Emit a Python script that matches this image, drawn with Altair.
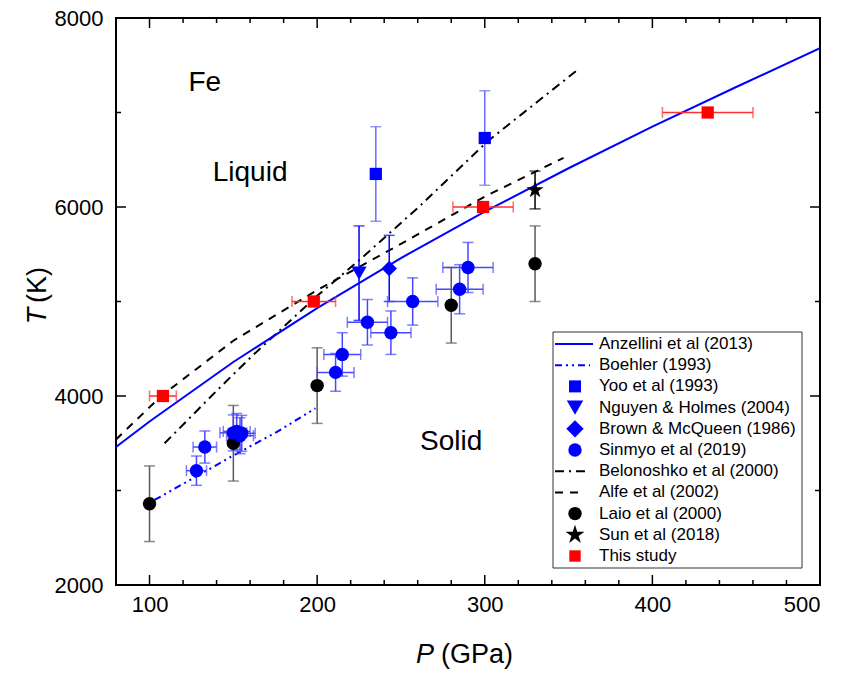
import altair as alt
import pandas as pd

# ---------------- data ----------------
# Anzellini et al (2013) melting curve
anz_P = [80, 100, 150, 200, 250, 300, 350, 400, 450, 500]
anz_T = [3460, 3730, 4360, 4930, 5460, 5950, 6410, 6850, 7270, 7680]
# Boehler (1993)
boe_P = [103, 150, 176, 199]
boe_T = [2900, 3370, 3620, 3870]
# Belonoshko et al (2000)
bel_P = [109, 142, 161, 200, 224, 260, 302, 356]
bel_T = [3500, 4090, 4420, 5060, 5420, 5990, 6700, 7460]
# Alfe et al (2002)
alf_P = [80, 107, 150, 200, 250, 300, 347]
alf_T = [3540, 4000, 4585, 5120, 5610, 6110, 6520]
# Yoo et al (1993)
yoo_P = [235, 300]
yoo_T = [6350, 6730]
yoo_dT = [500, 500]
# Nguyen & Holmes (2004)
ngu_P = [225]
ngu_T = [5300]
ngu_dT = [500]
# Brown & McQueen (1986)
bro_P = [243]
bro_T = [5350]
bro_dT = [350]
# Sinmyo et al (2019)
sin_P = [128, 133, 150, 152, 154, 155, 211, 215, 230, 244, 257, 285, 290]
sin_T = [3210, 3460, 3610, 3625, 3580, 3605, 4250, 4440, 4780, 4670, 5000, 5130, 5360]
sin_dP = [6, 7, 8, 8, 8, 8, 11, 11, 12, 12, 15, 14, 15]
sin_dT = [155, 170, 190, 190, 190, 190, 200, 230, 240, 230, 250, 260, 265]
# Laio et al (2000)
lai_P = [100, 150, 200, 280, 330]
lai_T = [2860, 3500, 4110, 4960, 5400]
lai_dT = [400, 400, 400, 400, 400]
# Sun et al (2018)
sun_P = [330]
sun_T = [6180]
sun_dT = [200]
# This study
ths_P = [108, 198, 299, 433]
ths_T = [4000, 5000, 6000, 7000]
ths_dP = [8, 13, 18, 27]

legend_labels = ["Anzellini et al (2013)", "Boehler (1993)", "Yoo et al (1993)",
                 "Nguyen & Holmes (2004)", "Brown & McQueen (1986)", "Sinmyo et al (2019)",
                 "Belonoshko et al (2000)", "Alfe et al (2002)", "Laio et al (2000)",
                 "Sun et al (2018)", "This study"]

x_major = [100, 200, 300, 400]
x_minor = [120, 140, 160, 180, 220, 240, 260, 280, 320, 340, 360, 380, 420, 440, 460, 480]
y_major = [4000, 6000]
y_minor = [3000, 5000, 7000]

# ---------------- layout ----------------
W, H = 704, 567
FONT = "Liberation Sans"
BLUE = "#0000ff"
STAR = "M0,-1L0.2245,-0.309L0.951,-0.309L0.363,0.118L0.588,0.809L0,0.382L-0.588,0.809L-0.363,0.118L-0.951,-0.309L-0.2245,-0.309Z"

xs = alt.Scale(domain=[80, 500], nice=False, zero=False)
ys = alt.Scale(domain=[2000, 8000], nice=False, zero=False)
x_axis = alt.Axis(values=[100, 200, 300, 400, 500], title=None, format="d")
y_axis = alt.Axis(values=[2000, 4000, 6000, 8000], title=None, format="d")


def X(f):
    return alt.X(f"{f}:Q", scale=xs, axis=x_axis)


def Y(f):
    return alt.Y(f"{f}:Q", scale=ys, axis=y_axis)


def line(P, T, color, dash=None):
    df = pd.DataFrame({"P": P, "T": T})
    kw = dict(color=color, strokeWidth=2, clip=True)
    if dash:
        kw["strokeDash"] = dash
    return alt.Chart(df).mark_line(**kw).encode(x=X("P"), y=Y("T"), order="P:Q")


def yerr(P, T, dT, color, cap=11):
    df = pd.DataFrame({"P": P, "T": T, "dT": dT})
    b = alt.Chart(df).transform_calculate(lo="datum.T - datum.dT", hi="datum.T + datum.dT")
    bar = b.mark_rule(color=color, strokeWidth=1.5).encode(x=X("P"), y=Y("lo"), y2="hi:Q")
    c1 = b.mark_tick(orient="horizontal", color=color, size=cap, thickness=1.5).encode(x=X("P"), y=Y("lo"))
    c2 = b.mark_tick(orient="horizontal", color=color, size=cap, thickness=1.5).encode(x=X("P"), y=Y("hi"))
    return bar + c1 + c2


def xerr(P, T, dP, color, cap=11):
    df = pd.DataFrame({"P": P, "T": T, "dP": dP})
    b = alt.Chart(df).transform_calculate(lo="datum.P - datum.dP", hi="datum.P + datum.dP")
    bar = b.mark_rule(color=color, strokeWidth=1.5).encode(x=X("lo"), x2="hi:Q", y=Y("T"))
    c1 = b.mark_tick(orient="vertical", color=color, size=cap, thickness=1.5).encode(x=X("lo"), y=Y("T"))
    c2 = b.mark_tick(orient="vertical", color=color, size=cap, thickness=1.5).encode(x=X("hi"), y=Y("T"))
    return bar + c1 + c2


def pts(P, T, shape, color, size):
    df = pd.DataFrame({"P": P, "T": T})
    return alt.Chart(df).mark_point(filled=True, shape=shape, color=color, size=size,
                                    opacity=1, strokeWidth=0).encode(x=X("P"), y=Y("T"))


layers = []
# lines
layers.append(line(alf_P, alf_T, "black", [8, 7]))
layers.append(line(bel_P, bel_T, "black", [9, 5, 2, 5]))
layers.append(line(boe_P, boe_T, BLUE, [7, 4, 2, 4, 2, 4]))
layers.append(line(anz_P, anz_T, BLUE))

# error bars
layers.append(yerr(lai_P, lai_T, lai_dT, "#5a5a5a"))
layers.append(yerr(yoo_P, yoo_T, yoo_dT, "#6b6bff"))
layers.append(yerr(ngu_P, ngu_T, ngu_dT, BLUE))
layers.append(yerr(bro_P, bro_T, bro_dT, BLUE))
layers.append(yerr(sin_P, sin_T, sin_dT, "#4747ff"))
layers.append(xerr(sin_P, sin_T, sin_dP, "#4747ff"))
layers.append(yerr(sun_P, sun_T, sun_dT, "black"))
layers.append(xerr(ths_P, ths_T, ths_dP, "#ff3030"))

# points
layers.append(pts(lai_P, lai_T, "circle", "black", 180))
layers.append(pts(sin_P, sin_T, "circle", BLUE, 180))
layers.append(pts(yoo_P, yoo_T, "square", BLUE, 150))
layers.append(pts(ngu_P, ngu_T, "triangle-down", BLUE, 230))
layers.append(pts(bro_P, bro_T, "diamond", BLUE, 240))
layers.append(pts(sun_P, sun_T, STAR, "black", 330))
layers.append(pts(ths_P, ths_T, "square", "#ff0000", 150))

# inward ticks
def tick_layers(vals, length):
    out = []
    dx = pd.DataFrame({"v": vals[0]})
    dy = pd.DataFrame({"v": vals[1]})
    r = dict(color="black", strokeWidth=1.5)
    out.append(alt.Chart(dx).mark_rule(**r).encode(x=X("v"), y=alt.value(H), y2=alt.value(H - length)))
    out.append(alt.Chart(dx).mark_rule(**r).encode(x=X("v"), y=alt.value(0), y2=alt.value(length)))
    out.append(alt.Chart(dy).mark_rule(**r).encode(y=Y("v"), x=alt.value(0), x2=alt.value(length)))
    out.append(alt.Chart(dy).mark_rule(**r).encode(y=Y("v"), x=alt.value(W), x2=alt.value(W - length)))
    return out

layers += tick_layers((x_major, y_major), 10)
layers += tick_layers((x_minor, y_minor), 5)

# region labels
lab = pd.DataFrame({"P": [133, 160, 280], "T": [7228, 6275, 3429], "t": ["Fe", "Liquid", "Solid"]})
layers.append(alt.Chart(lab).mark_text(font=FONT, fontSize=28, color="black", align="center",
                                       baseline="alphabetic").encode(x=X("P"), y=Y("T"), text="t:N"))

# axis titles
ttl = dict(font=FONT, fontSize=27, color="black", baseline="middle")
anchor = pd.DataFrame({"a": [0]})
layers.append(alt.Chart(anchor).mark_text(text="P", fontStyle="italic", align="right", **ttl)
              .encode(x=alt.value(318), y=alt.value(637)))
layers.append(alt.Chart(anchor).mark_text(text="(GPa)", align="left", **ttl)
              .encode(x=alt.value(325), y=alt.value(637)))
layers.append(alt.Chart(anchor).mark_text(text="T", fontStyle="italic", align="center", angle=270, **ttl)
              .encode(x=alt.value(-78), y=alt.value(298)))
layers.append(alt.Chart(anchor).mark_text(text="(K)", align="center", angle=270, **ttl)
              .encode(x=alt.value(-78), y=alt.value(267)))

# legend
LX0, LY0, ROW = 437, 326, 21.2
layers.append(alt.Chart(anchor).mark_rect(fill="white", stroke="#333333", strokeWidth=1)
              .encode(x=alt.value(LX0), x2=alt.value(686), y=alt.value(314), y2=alt.value(550)))
leg_lines = [(0, BLUE, None, 477), (1, BLUE, [7, 4, 2, 4, 2, 4], 474),
             (6, "black", [9, 5, 2, 5], 472), (7, "black", [8, 7], 469)]
for i, col, dash, xend in leg_lines:
    kw = dict(color=col, strokeWidth=2)
    if dash:
        kw["strokeDash"] = dash
    layers.append(alt.Chart(anchor).mark_rule(**kw).encode(
        x=alt.value(439), x2=alt.value(xend), y=alt.value(LY0 + i * ROW)))
leg_pts = pd.DataFrame({
    "i": [2, 3, 4, 5, 8, 9, 10],
    "shape": ["square", "triangle-down", "diamond", "circle", "circle", STAR, "square"],
    "color": [BLUE, BLUE, BLUE, BLUE, "black", "black", "#ff0000"],
    "size": [144, 270, 300, 180, 180, 400, 130],
})
layers.append(alt.Chart(leg_pts).transform_calculate(py=f"{LY0} + datum.i * {ROW}")
              .mark_point(filled=True, opacity=1, strokeWidth=0)
              .encode(x=alt.value(459), y=alt.Y("py:Q", scale=None, axis=None),
                      shape=alt.Shape("shape:N", scale=None, legend=None),
                      color=alt.Color("color:N", scale=None, legend=None),
                      size=alt.Size("size:Q", scale=None, legend=None)))
leg_txt = pd.DataFrame({"i": list(range(len(legend_labels))), "label": legend_labels})
layers.append(alt.Chart(leg_txt).transform_calculate(py=f"{LY0} + datum.i * {ROW}")
              .mark_text(font=FONT, fontSize=17, color="black", align="left", baseline="middle")
              .encode(x=alt.value(483), y=alt.Y("py:Q", scale=None, axis=None), text="label:N"))

chart = alt.layer(*layers).properties(
    width=W, height=H,
    padding={"left": 116, "top": 18, "right": 24, "bottom": 91},
    autosize=alt.AutoSizeParams(type="none"),
    background="white",
).configure_view(stroke="black", strokeWidth=2).configure_axis(
    grid=False, domain=False, ticks=False, tickSize=0,
    labelFont=FONT, labelFontSize=22, labelColor="black",
).configure_axisX(labelPadding=9).configure_axisY(labelPadding=13)

chart.save("out.html", embed_options={"renderer": "svg", "actions": False})
